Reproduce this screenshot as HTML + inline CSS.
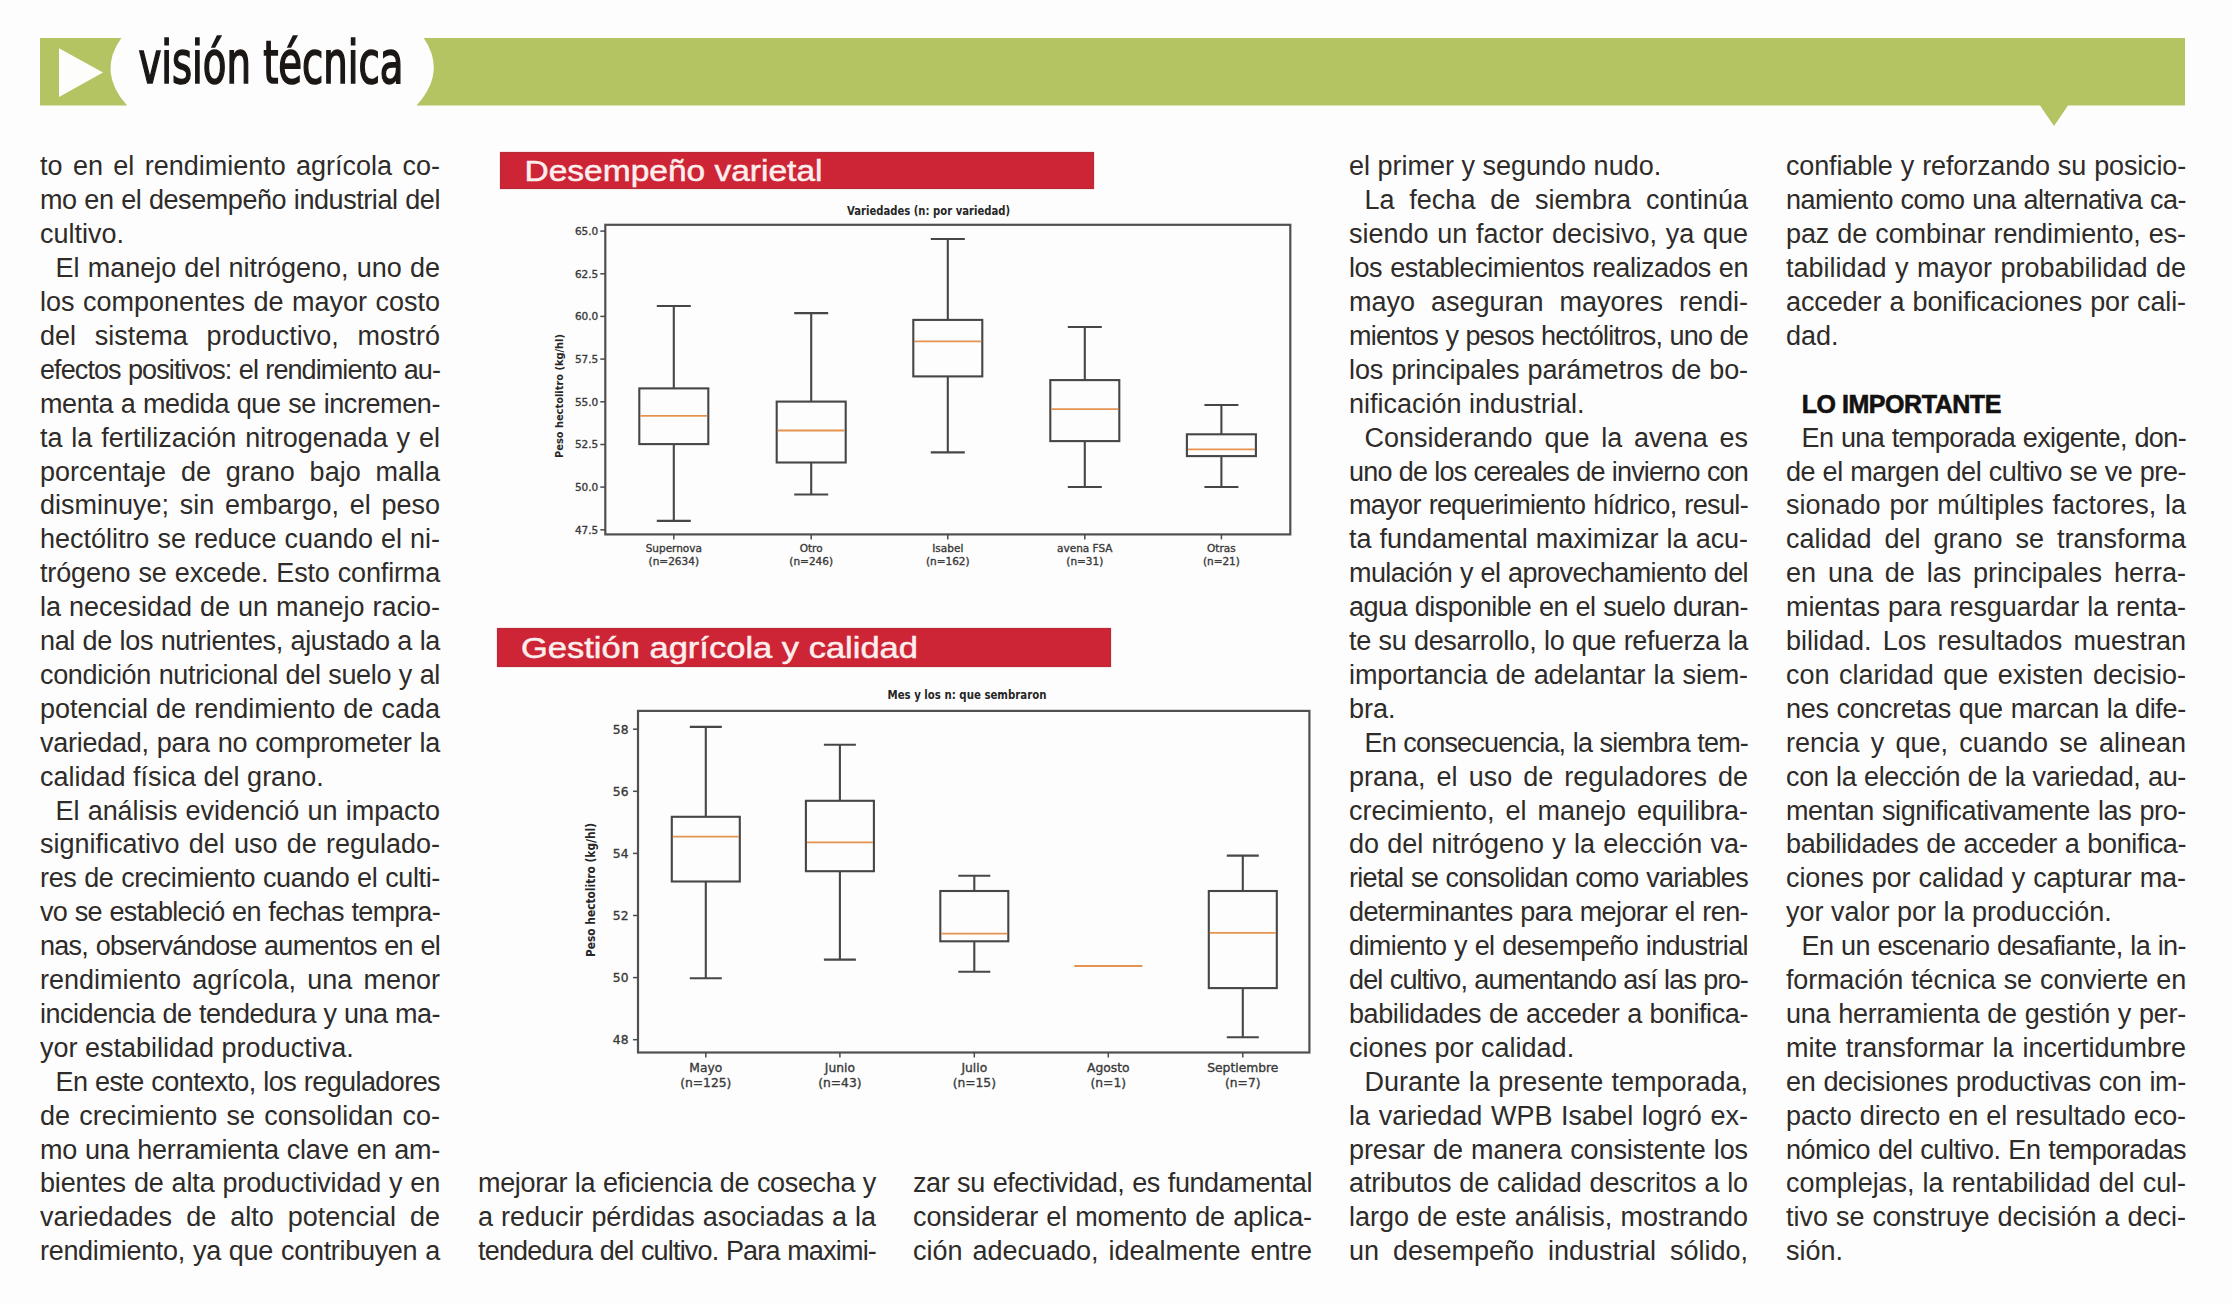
<!DOCTYPE html>
<html lang="es"><head><meta charset="utf-8"><title>visión técnica</title>
<style>
*{margin:0;padding:0;box-sizing:border-box}
html,body{width:2232px;height:1304px;overflow:hidden;background:#fdfdfd}
body{position:relative;font-family:"Liberation Sans",Arial,sans-serif}
.abs{position:absolute;left:0;top:0}
.ttl{font-family:"DejaVu Sans Condensed","DejaVu Sans",sans-serif;font-size:58px;fill:#1b1715;stroke:#1b1715;stroke-width:1.6px}
.col{position:absolute;top:0;height:1304px;transform:scaleX(1.0);transform-origin:0 0;color:#2e2b29;font-size:27px}
.col div{position:absolute;left:0;right:0;line-height:27px;height:27px;white-space:nowrap}
.col .j{text-align:justify;text-align-last:justify;white-space:normal}
.col .l{text-align:left}
.col .i{padding-left:15.50px}
.col .h{font-weight:bold;padding-left:15.70px;color:#141210;font-size:25px;letter-spacing:-0.45px;-webkit-text-stroke:0.6px #141210}
.rb{position:absolute;background:#cd2535;color:#fff3f1;font-size:29px;line-height:1;white-space:nowrap}
.rb span{position:absolute;display:block}
.ct{font-family:"DejaVu Sans",sans-serif;font-weight:bold;font-size:13px;fill:#262626}
.tk{font-family:"DejaVu Sans",sans-serif;fill:#3a3a3a;stroke:#3a3a3a;stroke-width:0.35px}
.yl{font-family:"DejaVu Sans",sans-serif;font-weight:bold;fill:#262626}
.rt{font-family:"Liberation Sans",sans-serif;font-size:29px;fill:#fdeeee;stroke:#fdeeee;stroke-width:0.5px}
</style></head>
<body>
<svg class="abs" width="2232" height="140" viewBox="0 0 2232 140">
<path d="M40 38 L121.3 38 Q97 72 127.1 105.6 L40 105.6 Z" fill="#b4c463"/>
<path d="M423.7 38 L2185 38 L2185 105.6 L2068 105.6 L2054 126 L2040 105.6 L416.5 105.6 Q447 72 423.7 38 Z" fill="#b4c463"/>
<path d="M59 48.3 L59 97.1 L103 72.5 Z" fill="#fdfdfb"/>
<text x="138.4" y="83.3" textLength="265" lengthAdjust="spacingAndGlyphs" class="ttl">visión técnica</text>
</svg>
<svg class="abs" width="2232" height="1304" viewBox="0 0 2232 1304">
<rect x="500.5" y="152.5" width="593" height="36" fill="#cd2535" stroke="#b72a38" stroke-width="1.2"/>
<text x="524.5" y="181.4" textLength="298" lengthAdjust="spacingAndGlyphs" class="rt">Desempeño varietal</text>
<rect x="497.5" y="628.5" width="613" height="38" fill="#cd2535" stroke="#b72a38" stroke-width="1.2"/>
<text x="521" y="658" textLength="397" lengthAdjust="spacingAndGlyphs" class="rt">Gestión agrícola y calidad</text>
</svg>
<svg class="abs" width="2232" height="1304" viewBox="0 0 2232 1304">
<rect x="605.3" y="224.8" width="685.0" height="309.59999999999997" fill="none" stroke="#505050" stroke-width="2.2"/><text x="847" y="214.7" textLength="163" lengthAdjust="spacingAndGlyphs" class="ct">Variedades (n: por variedad)</text><line x1="600.3" y1="231.1" x2="605.3" y2="231.1" stroke="#4a4a4a" stroke-width="1.5"/><text x="598.3" y="235.0" text-anchor="end" class="tk" font-size="10.5">65.0</text><line x1="600.3" y1="273.8" x2="605.3" y2="273.8" stroke="#4a4a4a" stroke-width="1.5"/><text x="598.3" y="277.7" text-anchor="end" class="tk" font-size="10.5">62.5</text><line x1="600.3" y1="316.4" x2="605.3" y2="316.4" stroke="#4a4a4a" stroke-width="1.5"/><text x="598.3" y="320.3" text-anchor="end" class="tk" font-size="10.5">60.0</text><line x1="600.3" y1="359.1" x2="605.3" y2="359.1" stroke="#4a4a4a" stroke-width="1.5"/><text x="598.3" y="363.0" text-anchor="end" class="tk" font-size="10.5">57.5</text><line x1="600.3" y1="401.8" x2="605.3" y2="401.8" stroke="#4a4a4a" stroke-width="1.5"/><text x="598.3" y="405.7" text-anchor="end" class="tk" font-size="10.5">55.0</text><line x1="600.3" y1="444.5" x2="605.3" y2="444.5" stroke="#4a4a4a" stroke-width="1.5"/><text x="598.3" y="448.4" text-anchor="end" class="tk" font-size="10.5">52.5</text><line x1="600.3" y1="487.1" x2="605.3" y2="487.1" stroke="#4a4a4a" stroke-width="1.5"/><text x="598.3" y="491.0" text-anchor="end" class="tk" font-size="10.5">50.0</text><line x1="600.3" y1="529.8" x2="605.3" y2="529.8" stroke="#4a4a4a" stroke-width="1.5"/><text x="598.3" y="533.7" text-anchor="end" class="tk" font-size="10.5">47.5</text><text transform="translate(562.5,458.0) rotate(-90)" textLength="124" lengthAdjust="spacingAndGlyphs" class="yl" font-size="11">Peso hectolitro (kg/hl)</text><line x1="673.8" y1="534.4" x2="673.8" y2="539.4" stroke="#4a4a4a" stroke-width="1.5"/><text x="673.8" y="551.5" text-anchor="middle" class="tk" font-size="10.5">Supernova</text><text x="673.8" y="564.5" text-anchor="middle" class="tk" font-size="10.5">(n=2634)</text><line x1="673.8" y1="306" x2="673.8" y2="388.4" stroke="#464646" stroke-width="2.1"/><line x1="673.8" y1="444.1" x2="673.8" y2="520.9" stroke="#464646" stroke-width="2.1"/><line x1="656.8" y1="306" x2="690.8" y2="306" stroke="#464646" stroke-width="2.1"/><line x1="656.8" y1="520.9" x2="690.8" y2="520.9" stroke="#464646" stroke-width="2.1"/><rect x="639.3" y="388.4" width="69.0" height="55.700000000000045" fill="none" stroke="#464646" stroke-width="2.1"/><line x1="640.3" y1="415.9" x2="707.3" y2="415.9" stroke="#e49450" stroke-width="1.8"/><line x1="811.2" y1="534.4" x2="811.2" y2="539.4" stroke="#4a4a4a" stroke-width="1.5"/><text x="811.2" y="551.5" text-anchor="middle" class="tk" font-size="10.5">Otro</text><text x="811.2" y="564.5" text-anchor="middle" class="tk" font-size="10.5">(n=246)</text><line x1="811.2" y1="313.1" x2="811.2" y2="401.6" stroke="#464646" stroke-width="2.1"/><line x1="811.2" y1="462.5" x2="811.2" y2="494.5" stroke="#464646" stroke-width="2.1"/><line x1="794.2" y1="313.1" x2="828.2" y2="313.1" stroke="#464646" stroke-width="2.1"/><line x1="794.2" y1="494.5" x2="828.2" y2="494.5" stroke="#464646" stroke-width="2.1"/><rect x="776.7" y="401.6" width="69.0" height="60.89999999999998" fill="none" stroke="#464646" stroke-width="2.1"/><line x1="777.7" y1="430.5" x2="844.7" y2="430.5" stroke="#e49450" stroke-width="1.8"/><line x1="947.8" y1="534.4" x2="947.8" y2="539.4" stroke="#4a4a4a" stroke-width="1.5"/><text x="947.8" y="551.5" text-anchor="middle" class="tk" font-size="10.5">Isabel</text><text x="947.8" y="564.5" text-anchor="middle" class="tk" font-size="10.5">(n=162)</text><line x1="947.8" y1="239" x2="947.8" y2="319.9" stroke="#464646" stroke-width="2.1"/><line x1="947.8" y1="376.4" x2="947.8" y2="452.4" stroke="#464646" stroke-width="2.1"/><line x1="930.8" y1="239" x2="964.8" y2="239" stroke="#464646" stroke-width="2.1"/><line x1="930.8" y1="452.4" x2="964.8" y2="452.4" stroke="#464646" stroke-width="2.1"/><rect x="913.3" y="319.9" width="69.0" height="56.5" fill="none" stroke="#464646" stroke-width="2.1"/><line x1="914.3" y1="341.4" x2="981.3" y2="341.4" stroke="#e49450" stroke-width="1.8"/><line x1="1084.8" y1="534.4" x2="1084.8" y2="539.4" stroke="#4a4a4a" stroke-width="1.5"/><text x="1084.8" y="551.5" text-anchor="middle" class="tk" font-size="10.5">avena FSA</text><text x="1084.8" y="564.5" text-anchor="middle" class="tk" font-size="10.5">(n=31)</text><line x1="1084.8" y1="327" x2="1084.8" y2="380.1" stroke="#464646" stroke-width="2.1"/><line x1="1084.8" y1="441.1" x2="1084.8" y2="487" stroke="#464646" stroke-width="2.1"/><line x1="1067.8" y1="327" x2="1101.8" y2="327" stroke="#464646" stroke-width="2.1"/><line x1="1067.8" y1="487" x2="1101.8" y2="487" stroke="#464646" stroke-width="2.1"/><rect x="1050.3" y="380.1" width="69.0" height="61.0" fill="none" stroke="#464646" stroke-width="2.1"/><line x1="1051.3" y1="409.1" x2="1118.3" y2="409.1" stroke="#e49450" stroke-width="1.8"/><line x1="1221.4" y1="534.4" x2="1221.4" y2="539.4" stroke="#4a4a4a" stroke-width="1.5"/><text x="1221.4" y="551.5" text-anchor="middle" class="tk" font-size="10.5">Otras</text><text x="1221.4" y="564.5" text-anchor="middle" class="tk" font-size="10.5">(n=21)</text><line x1="1221.4" y1="405" x2="1221.4" y2="434.3" stroke="#464646" stroke-width="2.1"/><line x1="1221.4" y1="456.1" x2="1221.4" y2="487" stroke="#464646" stroke-width="2.1"/><line x1="1204.4" y1="405" x2="1238.4" y2="405" stroke="#464646" stroke-width="2.1"/><line x1="1204.4" y1="487" x2="1238.4" y2="487" stroke="#464646" stroke-width="2.1"/><rect x="1186.9" y="434.3" width="69.0" height="21.80000000000001" fill="none" stroke="#464646" stroke-width="2.1"/><line x1="1187.9" y1="449.4" x2="1254.9" y2="449.4" stroke="#e49450" stroke-width="1.8"/>
<rect x="638" y="710.9" width="671.4000000000001" height="341.6" fill="none" stroke="#505050" stroke-width="2.2"/><text x="887.5" y="699" textLength="159" lengthAdjust="spacingAndGlyphs" class="ct">Mes y los n: que sembraron</text><line x1="633" y1="729.2" x2="638" y2="729.2" stroke="#4a4a4a" stroke-width="1.5"/><text x="628.5" y="733.8" text-anchor="end" class="tk" font-size="12.3">58</text><line x1="633" y1="791.3" x2="638" y2="791.3" stroke="#4a4a4a" stroke-width="1.5"/><text x="628.5" y="795.9" text-anchor="end" class="tk" font-size="12.3">56</text><line x1="633" y1="853.4" x2="638" y2="853.4" stroke="#4a4a4a" stroke-width="1.5"/><text x="628.5" y="858.0" text-anchor="end" class="tk" font-size="12.3">54</text><line x1="633" y1="915.5" x2="638" y2="915.5" stroke="#4a4a4a" stroke-width="1.5"/><text x="628.5" y="920.1" text-anchor="end" class="tk" font-size="12.3">52</text><line x1="633" y1="977.6" x2="638" y2="977.6" stroke="#4a4a4a" stroke-width="1.5"/><text x="628.5" y="982.2" text-anchor="end" class="tk" font-size="12.3">50</text><line x1="633" y1="1039.7" x2="638" y2="1039.7" stroke="#4a4a4a" stroke-width="1.5"/><text x="628.5" y="1044.3" text-anchor="end" class="tk" font-size="12.3">48</text><text transform="translate(595,957.0) rotate(-90)" textLength="134" lengthAdjust="spacingAndGlyphs" class="yl" font-size="12">Peso hectolitro (kg/hl)</text><line x1="705.8" y1="1052.5" x2="705.8" y2="1057.5" stroke="#4a4a4a" stroke-width="1.5"/><text x="705.8" y="1071.5" text-anchor="middle" class="tk" font-size="12.3">Mayo</text><text x="705.8" y="1087" text-anchor="middle" class="tk" font-size="12.3">(n=125)</text><line x1="705.8" y1="726.9" x2="705.8" y2="816.8" stroke="#464646" stroke-width="2.1"/><line x1="705.8" y1="881.5" x2="705.8" y2="978.2" stroke="#464646" stroke-width="2.1"/><line x1="689.8" y1="726.9" x2="721.8" y2="726.9" stroke="#464646" stroke-width="2.1"/><line x1="689.8" y1="978.2" x2="721.8" y2="978.2" stroke="#464646" stroke-width="2.1"/><rect x="671.8" y="816.8" width="68.0" height="64.70000000000005" fill="none" stroke="#464646" stroke-width="2.1"/><line x1="672.8" y1="836.6" x2="738.8" y2="836.6" stroke="#e49450" stroke-width="1.8"/><line x1="839.9" y1="1052.5" x2="839.9" y2="1057.5" stroke="#4a4a4a" stroke-width="1.5"/><text x="839.9" y="1071.5" text-anchor="middle" class="tk" font-size="12.3">Junio</text><text x="839.9" y="1087" text-anchor="middle" class="tk" font-size="12.3">(n=43)</text><line x1="839.9" y1="744.8" x2="839.9" y2="800.8" stroke="#464646" stroke-width="2.1"/><line x1="839.9" y1="871.2" x2="839.9" y2="959.6" stroke="#464646" stroke-width="2.1"/><line x1="823.9" y1="744.8" x2="855.9" y2="744.8" stroke="#464646" stroke-width="2.1"/><line x1="823.9" y1="959.6" x2="855.9" y2="959.6" stroke="#464646" stroke-width="2.1"/><rect x="805.9" y="800.8" width="68.0" height="70.40000000000009" fill="none" stroke="#464646" stroke-width="2.1"/><line x1="806.9" y1="842.3" x2="872.9" y2="842.3" stroke="#e49450" stroke-width="1.8"/><line x1="974.3" y1="1052.5" x2="974.3" y2="1057.5" stroke="#4a4a4a" stroke-width="1.5"/><text x="974.3" y="1071.5" text-anchor="middle" class="tk" font-size="12.3">Julio</text><text x="974.3" y="1087" text-anchor="middle" class="tk" font-size="12.3">(n=15)</text><line x1="974.3" y1="875.8" x2="974.3" y2="891" stroke="#464646" stroke-width="2.1"/><line x1="974.3" y1="941.3" x2="974.3" y2="971.8" stroke="#464646" stroke-width="2.1"/><line x1="958.3" y1="875.8" x2="990.3" y2="875.8" stroke="#464646" stroke-width="2.1"/><line x1="958.3" y1="971.8" x2="990.3" y2="971.8" stroke="#464646" stroke-width="2.1"/><rect x="940.3" y="891" width="68.0" height="50.299999999999955" fill="none" stroke="#464646" stroke-width="2.1"/><line x1="941.3" y1="933.7" x2="1007.3" y2="933.7" stroke="#e49450" stroke-width="1.8"/><line x1="1108.3" y1="1052.5" x2="1108.3" y2="1057.5" stroke="#4a4a4a" stroke-width="1.5"/><text x="1108.3" y="1071.5" text-anchor="middle" class="tk" font-size="12.3">Agosto</text><text x="1108.3" y="1087" text-anchor="middle" class="tk" font-size="12.3">(n=1)</text><line x1="1074.3" y1="966.1" x2="1142.3" y2="966.1" stroke="#e49450" stroke-width="2"/><line x1="1242.8" y1="1052.5" x2="1242.8" y2="1057.5" stroke="#4a4a4a" stroke-width="1.5"/><text x="1242.8" y="1071.5" text-anchor="middle" class="tk" font-size="12.3">Septiembre</text><text x="1242.8" y="1087" text-anchor="middle" class="tk" font-size="12.3">(n=7)</text><line x1="1242.8" y1="855.6" x2="1242.8" y2="891" stroke="#464646" stroke-width="2.1"/><line x1="1242.8" y1="988.1" x2="1242.8" y2="1037.3" stroke="#464646" stroke-width="2.1"/><line x1="1226.8" y1="855.6" x2="1258.8" y2="855.6" stroke="#464646" stroke-width="2.1"/><line x1="1226.8" y1="1037.3" x2="1258.8" y2="1037.3" stroke="#464646" stroke-width="2.1"/><rect x="1208.8" y="891" width="68.0" height="97.10000000000002" fill="none" stroke="#464646" stroke-width="2.1"/><line x1="1209.8" y1="932.9" x2="1275.8" y2="932.9" stroke="#e49450" stroke-width="1.8"/>
</svg>
<div class="col" style="left:40px;width:400.00px"><div class="j" style="top:153.44px">to en el rendimiento agrícola co-</div><div class="j" style="top:187.34px;letter-spacing:-0.43px">mo en el desempeño industrial del</div><div class="l" style="top:221.24px">cultivo.</div><div class="j i" style="top:255.14px">El manejo del nitrógeno, uno de</div><div class="j" style="top:289.04px">los componentes de mayor costo</div><div class="j" style="top:322.94px">del sistema productivo, mostró</div><div class="j" style="top:356.84px;letter-spacing:-0.91px">efectos positivos: el rendimiento au-</div><div class="j" style="top:390.74px;letter-spacing:-0.41px">menta a medida que se incremen-</div><div class="j" style="top:424.64px">ta la fertilización nitrogenada y el</div><div class="j" style="top:458.54px">porcentaje de grano bajo malla</div><div class="j" style="top:492.44px">disminuye; sin embargo, el peso</div><div class="j" style="top:526.34px;letter-spacing:-0.02px">hectólitro se reduce cuando el ni-</div><div class="j" style="top:560.24px;letter-spacing:-0.16px">trógeno se excede. Esto confirma</div><div class="j" style="top:594.14px;letter-spacing:-0.02px">la necesidad de un manejo racio-</div><div class="j" style="top:628.04px;letter-spacing:-0.36px">nal de los nutrientes, ajustado a la</div><div class="j" style="top:661.94px;letter-spacing:-0.35px">condición nutricional del suelo y al</div><div class="j" style="top:695.84px;letter-spacing:-0.02px">potencial de rendimiento de cada</div><div class="j" style="top:729.74px;letter-spacing:-0.26px">variedad, para no comprometer la</div><div class="l" style="top:763.64px">calidad física del grano.</div><div class="j i" style="top:797.54px;letter-spacing:-0.04px">El análisis evidenció un impacto</div><div class="j" style="top:831.44px">significativo del uso de regulado-</div><div class="j" style="top:865.34px;letter-spacing:-0.36px">res de crecimiento cuando el culti-</div><div class="j" style="top:899.24px;letter-spacing:-0.64px">vo se estableció en fechas tempra-</div><div class="j" style="top:933.14px;letter-spacing:-0.73px">nas, observándose aumentos en el</div><div class="j" style="top:967.04px">rendimiento agrícola, una menor</div><div class="j" style="top:1000.94px;letter-spacing:-0.52px">incidencia de tendedura y una ma-</div><div class="l" style="top:1034.84px">yor estabilidad productiva.</div><div class="j i" style="top:1068.74px;letter-spacing:-0.58px">En este contexto, los reguladores</div><div class="j" style="top:1102.64px">de crecimiento se consolidan co-</div><div class="j" style="top:1136.54px;letter-spacing:-0.22px">mo una herramienta clave en am-</div><div class="j" style="top:1170.44px;letter-spacing:-0.16px">bientes de alta productividad y en</div><div class="j" style="top:1204.34px">variedades de alto potencial de</div><div class="j" style="top:1238.24px;letter-spacing:-0.30px">rendimiento, ya que contribuyen a</div></div><div class="col" style="left:478px;width:398.00px"><div class="j" style="top:1170.44px;letter-spacing:-0.34px">mejorar la eficiencia de cosecha y</div><div class="j" style="top:1204.34px;letter-spacing:-0.04px">a reducir pérdidas asociadas a la</div><div class="j" style="top:1238.24px;letter-spacing:-0.81px">tendedura del cultivo. Para maximi-</div></div><div class="col" style="left:913px;width:399.00px"><div class="j" style="top:1170.44px;letter-spacing:-0.40px">zar su efectividad, es fundamental</div><div class="j" style="top:1204.34px;letter-spacing:-0.10px">considerar el momento de aplica-</div><div class="j" style="top:1238.24px">ción adecuado, idealmente entre</div></div><div class="col" style="left:1349px;width:399.00px"><div class="l" style="top:153.44px">el primer y segundo nudo.</div><div class="j i" style="top:187.34px">La fecha de siembra continúa</div><div class="j" style="top:221.24px">siendo un factor decisivo, ya que</div><div class="j" style="top:255.14px;letter-spacing:-0.45px">los establecimientos realizados en</div><div class="j" style="top:289.04px">mayo aseguran mayores rendi-</div><div class="j" style="top:322.94px;letter-spacing:-0.78px">mientos y pesos hectólitros, uno de</div><div class="j" style="top:356.84px;letter-spacing:-0.10px">los principales parámetros de bo-</div><div class="l" style="top:390.74px">nificación industrial.</div><div class="j i" style="top:424.64px">Considerando que la avena es</div><div class="j" style="top:458.54px;letter-spacing:-0.82px">uno de los cereales de invierno con</div><div class="j" style="top:492.44px;letter-spacing:-0.65px">mayor requerimiento hídrico, resul-</div><div class="j" style="top:526.34px;letter-spacing:-0.05px">ta fundamental maximizar la acu-</div><div class="j" style="top:560.24px;letter-spacing:-0.60px">mulación y el aprovechamiento del</div><div class="j" style="top:594.14px;letter-spacing:-0.49px">agua disponible en el suelo duran-</div><div class="j" style="top:628.04px;letter-spacing:-0.34px">te su desarrollo, lo que refuerza la</div><div class="j" style="top:661.94px;letter-spacing:-0.10px">importancia de adelantar la siem-</div><div class="l" style="top:695.84px">bra.</div><div class="j i" style="top:729.74px;letter-spacing:-0.82px">En consecuencia, la siembra tem-</div><div class="j" style="top:763.64px">prana, el uso de reguladores de</div><div class="j" style="top:797.54px">crecimiento, el manejo equilibra-</div><div class="j" style="top:831.44px">do del nitrógeno y la elección va-</div><div class="j" style="top:865.34px;letter-spacing:-0.69px">rietal se consolidan como variables</div><div class="j" style="top:899.24px;letter-spacing:-0.58px">determinantes para mejorar el ren-</div><div class="j" style="top:933.14px;letter-spacing:-0.58px">dimiento y el desempeño industrial</div><div class="j" style="top:967.04px;letter-spacing:-0.84px">del cultivo, aumentando así las pro-</div><div class="j" style="top:1000.94px;letter-spacing:-0.41px">babilidades de acceder a bonifica-</div><div class="l" style="top:1034.84px">ciones por calidad.</div><div class="j i" style="top:1068.74px;letter-spacing:-0.02px">Durante la presente temporada,</div><div class="j" style="top:1102.64px">la variedad WPB Isabel logró ex-</div><div class="j" style="top:1136.54px;letter-spacing:-0.10px">presar de manera consistente los</div><div class="j" style="top:1170.44px;letter-spacing:-0.14px">atributos de calidad descritos a lo</div><div class="j" style="top:1204.34px;letter-spacing:-0.01px">largo de este análisis, mostrando</div><div class="j" style="top:1238.24px">un desempeño industrial sólido,</div></div><div class="col" style="left:1786px;width:400.00px"><div class="j" style="top:153.44px;letter-spacing:-0.15px">confiable y reforzando su posicio-</div><div class="j" style="top:187.34px;letter-spacing:-0.52px">namiento como una alternativa ca-</div><div class="j" style="top:221.24px;letter-spacing:-0.12px">paz de combinar rendimiento, es-</div><div class="j" style="top:255.14px">tabilidad y mayor probabilidad de</div><div class="j" style="top:289.04px;letter-spacing:-0.11px">acceder a bonificaciones por cali-</div><div class="l" style="top:322.94px">dad.</div><div class="h" style="top:390.74px">LO IMPORTANTE</div><div class="j i" style="top:424.64px;letter-spacing:-0.62px">En una temporada exigente, don-</div><div class="j" style="top:458.54px;letter-spacing:-0.45px">de el margen del cultivo se ve pre-</div><div class="j" style="top:492.44px">sionado por múltiples factores, la</div><div class="j" style="top:526.34px">calidad del grano se transforma</div><div class="j" style="top:560.24px">en una de las principales herra-</div><div class="j" style="top:594.14px;letter-spacing:-0.11px">mientas para resguardar la renta-</div><div class="j" style="top:628.04px">bilidad. Los resultados muestran</div><div class="j" style="top:661.94px">con claridad que existen decisio-</div><div class="j" style="top:695.84px;letter-spacing:-0.29px">nes concretas que marcan la dife-</div><div class="j" style="top:729.74px">rencia y que, cuando se alinean</div><div class="j" style="top:763.64px;letter-spacing:-0.36px">con la elección de la variedad, au-</div><div class="j" style="top:797.54px;letter-spacing:-0.37px">mentan significativamente las pro-</div><div class="j" style="top:831.44px;letter-spacing:-0.38px">babilidades de acceder a bonifica-</div><div class="j" style="top:865.34px;letter-spacing:-0.07px">ciones por calidad y capturar ma-</div><div class="l" style="top:899.24px">yor valor por la producción.</div><div class="j i" style="top:933.14px;letter-spacing:-0.57px">En un escenario desafiante, la in-</div><div class="j" style="top:967.04px;letter-spacing:-0.16px">formación técnica se convierte en</div><div class="j" style="top:1000.94px;letter-spacing:-0.25px">una herramienta de gestión y per-</div><div class="j" style="top:1034.84px">mite transformar la incertidumbre</div><div class="j" style="top:1068.74px;letter-spacing:-0.29px">en decisiones productivas con im-</div><div class="j" style="top:1102.64px;letter-spacing:-0.07px">pacto directo en el resultado eco-</div><div class="j" style="top:1136.54px;letter-spacing:-0.48px">nómico del cultivo. En temporadas</div><div class="j" style="top:1170.44px;letter-spacing:-0.06px">complejas, la rentabilidad del cul-</div><div class="j" style="top:1204.34px;letter-spacing:-0.02px">tivo se construye decisión a deci-</div><div class="l" style="top:1238.24px">sión.</div></div>
</body></html>
